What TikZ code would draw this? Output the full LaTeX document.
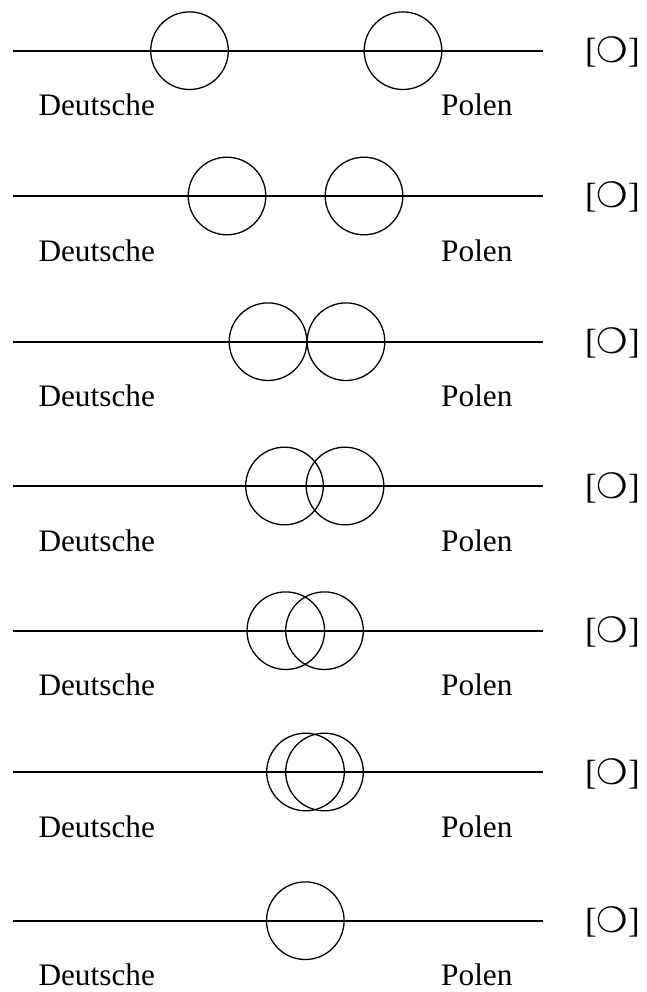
\documentclass[tikz,border=0pt]{standalone}
\usepackage{fontspec}
\setmainfont{Liberation Serif}
\newfontfamily\symfont{DejaVu Sans}
\begin{document}
\begin{tikzpicture}[x=1pt,y=-1pt,
  ring/.style={circle,draw,line width=1.3pt,minimum size=77.6pt,inner sep=0pt},
  axis/.style={line width=2pt},
  lbl/.style={anchor=base west,inner sep=0pt,font=\fontsize{31.3}{31.3}\selectfont},
  sym/.style={anchor=base west,inner sep=0pt,font=\fontsize{35}{35}\selectfont},
]
\useasboundingbox (0,0) rectangle (646,992);
\foreach \i/\y/\a/\b in {1/50.7/189.5/403, 2/196/227/364, 3/341.7/268/346, 4/486/284.5/345, 5/630.7/285.8/324.5, 6/772/305.5/324.5} {
  \coordinate (L\i) at (12.7,\y);
  \coordinate (R\i) at (542.7,\y);
  \draw[axis] (L\i) -- (R\i);
  \node[ring] (a\i) at (\a,\y) {};
  \node[ring] (b\i) at (\b,\y) {};
  \node[lbl] (d\i) at (38.3,\y+65) {Deutsche};
  \node[lbl] (p\i) at (441,\y+65) {Polen};
  \node[sym] (s\i) at (585,\y+12) {[{\symfont\bfseries ❍}]};
}
\coordinate (L7) at (12.7,920.7);
\coordinate (R7) at (542.7,920.7);
\draw[axis] (L7) -- (R7);
\node[ring] (a7) at (305.3,920.7) {};
\node[lbl] (d7) at (38.3,985.7) {Deutsche};
\node[lbl] (p7) at (441,985.7) {Polen};
\node[sym] (s7) at (585,932.7) {[{\symfont\bfseries ❍}]};
\end{tikzpicture}
\end{document}
